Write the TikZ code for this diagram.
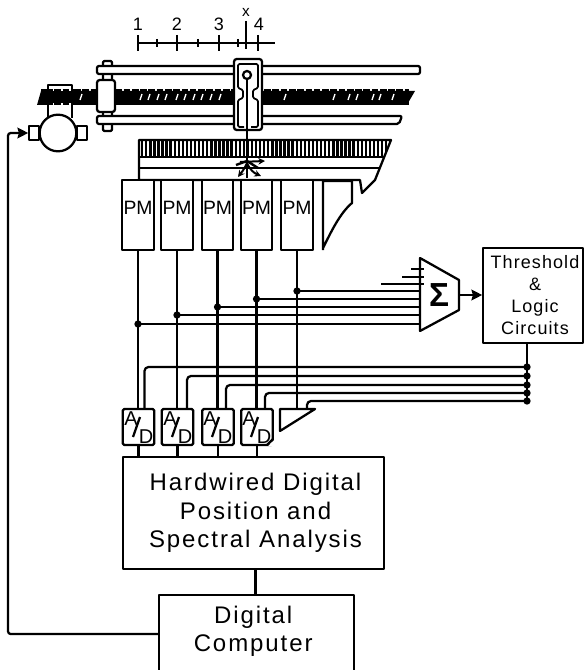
\documentclass[tikz,border=0pt]{standalone}
\usepackage{fontspec}
\usepackage{tikz}
\usetikzlibrary{arrows.meta}
\setmainfont{Liberation Sans}
\newfontfamily\widefont[LetterSpace=8]{Liberation Sans}
\newfontfamily\smallfont[LetterSpace=6]{Liberation Sans}
\tikzset{
  pmbox/.style={draw,fill=white,inner sep=0pt,minimum width=23.5pt,minimum height=52.5pt,text depth=10pt,font=\fontsize{14.5}{16}\selectfont},
  adbox/.style={draw,fill=white,inner sep=0pt,minimum width=23.5pt,minimum height=27pt,rounded corners=1pt},
  adglyph/.style={inner sep=0pt,font=\fontsize{15}{15}\selectfont},
  blockbig/.style={draw,fill=white,inner sep=0pt,align=center,font=\widefont\fontsize{18}{21.5}\selectfont},
  blocksmall/.style={draw,fill=white,inner sep=0pt,align=center,font=\smallfont\fontsize{13.5}{16.5}\selectfont},
  jdot/.style={circle,fill=black,inner sep=0pt,minimum size=5.5pt},
  ticklabel/.style={inner sep=0pt,font=\fontsize{13.5}{14}\selectfont},
  partbox/.style={draw,fill=white,inner sep=0pt}
}
\begin{document}
\begin{tikzpicture}[x=0.75pt,y=-0.75pt,line width=1.7pt,>={Stealth[length=8pt,width=8pt,inset=1pt]},line join=round]
\useasboundingbox (0,0) rectangle (584,670);
\node[ticklabel] (lab1) at (138,24) {1};
\node[ticklabel] (lab2) at (177,24) {2};
\node[ticklabel] (lab3) at (219,24) {3};
\node[ticklabel] (lab4) at (259,24) {4};
\node[ticklabel,font=\fontsize{11.5}{12}\selectfont] (labx) at (246,12) {x};
\draw[line width=1.4pt] (138,43) -- (275,43);
\draw[line width=1.4pt] (138,35) -- (138,51);
\draw[line width=1.4pt] (157,39) -- (157,47);
\draw[line width=1.4pt] (177,35) -- (177,51);
\draw[line width=1.4pt] (198,39) -- (198,47);
\draw[line width=1.4pt] (219,35) -- (219,51);
\draw[line width=1.4pt] (238,39) -- (238,47);
\draw[line width=1.4pt] (246,21) -- (246,49);
\draw[line width=1.4pt] (258,35) -- (258,51);
% guide rails and lead screw
\draw[fill=white,rounded corners=1pt] (103,61) rectangle (112,131);
\draw[fill=white,rounded corners=1.5pt] (97,66) -- (420,66) -- (420,74) -- (97,74) -- cycle;
\draw[fill=white,rounded corners=1.5pt] (97,116) -- (402,116) -- (399,124) -- (97,124) -- cycle;
\fill[black] (37,105) -- (41,91) -- (415,91) -- (408,103) -- (405,105) -- cycle;
\draw[line width=12pt,dash pattern=on 5pt off 1.2pt] (41,97) -- (409,97);
\draw[white,line width=1pt] (80,100) -- (82,94) (140,100) -- (142,94) (148,100) -- (150,94) (157,100) -- (159,94) (165,100) -- (167,94)
  (176,100) -- (178,94) (184,100) -- (186,94) (193,100) -- (195,94) (201,100) -- (203,94) (210,100) -- (212,94) (219,100) -- (221,94)
  (284,100) -- (286,94) (333,100) -- (335,94) (348,100) -- (350,94) (356,100) -- (358,94) (372,100) -- (374,94) (379,100) -- (381,94) (392,100) -- (394,94);
\node[partbox,rounded corners=2pt,minimum width=13.5pt,minimum height=24pt] (clamp) at (106,96) {};
% motor
\draw[fill=white] (48,118) -- (48,85) -- (72,85) -- (72,118);
\fill[black] (46,91) rectangle (74,103);
\draw[line width=12pt,dash pattern=on 5pt off 1.2pt] (46,97) -- (74,97);
\fill[white] (49,86.5) rectangle (71,88.5);
\fill[white] (49,105.5) rectangle (71,116);
\node[partbox,minimum width=7pt,minimum height=10pt] (termleft) at (34,133) {};
\node[partbox,minimum width=7.5pt,minimum height=10pt] (termright) at (82,133) {};
\node[partbox,circle,minimum size=27.5pt] (motor) at (58,133) {};
% carriage
\draw[fill=white,rounded corners=2pt] (234,59) rectangle (262,130);
\draw[rounded corners=1pt,line width=1.3pt] (244,127) -- (238,127) -- (238,100) -- (243,98) -- (243,90) -- (238,88) -- (238,64) -- (258,64) -- (258,88) -- (253,90) -- (253,98) -- (258,100) -- (258,127) -- (251,127);
\node[partbox,circle,minimum size=6pt] (pivot) at (247,75) {};
% crystal and collimator
\draw[fill=white] (139,180) -- (139,140) -- (391,140) -- (375,180) -- (362,193) -- (360,180) -- cycle;
\begin{scope}
\clip (139,140) -- (391,140) -- (384,157) -- (139,157) -- cycle;
\draw[line width=12pt,dash pattern=on 1.8pt off 1.25pt] (141,148) -- (392,148);
\end{scope}
\draw (139,157) -- (384,157);
\draw (139,168) -- (380,168);
\draw[line width=1.8pt] (pivot) -- (247,178);
% light rays
\draw[->,line width=1.5pt,>={Stealth[length=5pt,width=5pt]}] (240,162) -- (265,161);
\draw[->,line width=1.5pt,>={Stealth[length=5pt,width=5pt]}] (247,163) .. controls (244,170) and (241,173) .. (238,177);
\draw[->,line width=1.5pt,>={Stealth[length=5pt,width=5pt]}] (247,163) .. controls (250,170) and (254,173) .. (261,176);
\draw[line width=1.8pt] (236,165) -- (247,161) -- (258,168);
% photomultipliers
\node[pmbox] (pm1) at (138,215) {PM};
\node[pmbox] (pm2) at (177,215) {PM};
\node[pmbox] (pm3) at (217.5,215) {PM};
\node[pmbox] (pm4) at (256.5,215) {PM};
\node[pmbox] (pm5) at (297,215) {PM};
\draw[fill=white] (323,250) -- (323,181) -- (352,181) -- (352,203) .. controls (340,213) and (331,232) .. (323,248);
% converters
\node[adbox] (ad1) at (138.5,427) {};
\node[adglyph] (ad1a) at (131,419) {A};
\node[adglyph] (ad1d) at (146,437) {D};
\draw (133,437) -- (140,417);
\node[adbox] (ad2) at (177.5,427) {};
\node[adglyph] (ad2a) at (170,419) {A};
\node[adglyph] (ad2d) at (185,437) {D};
\draw (172,437) -- (179,417);
\node[adbox] (ad3) at (218,427) {};
\node[adglyph] (ad3a) at (210,419) {A};
\node[adglyph] (ad3d) at (225,437) {D};
\draw (212,437) -- (219,417);
\node[adbox] (ad4) at (257,427) {};
\node[adglyph] (ad4a) at (249,419) {A};
\node[adglyph] (ad4d) at (264,437) {D};
\draw (251,437) -- (258,417);
\fill[white] (268,446) -- (274,446) -- (274,440) -- cycle;
\draw (267,445) -- (273,439);
\draw[fill=white] (280,409) -- (315,409) -- (280,431) -- cycle;
% blocks
\node[blockbig,minimum width=195.5pt,minimum height=84pt] (hard) at (253.5,513) {\hspace*{3pt}Hardwired Digital\\\hspace*{3pt}Position and\\\hspace*{3pt}Spectral Analysis};
\node[blockbig,minimum width=146pt,minimum height=58pt,text depth=8pt] (comp) at (256.5,634) {Digital\hspace*{5pt}\\Computer\hspace*{5pt}};
\node[blocksmall,minimum width=74.5pt,minimum height=71pt] (thresh) at (533,295.5) {\hspace*{3pt}Threshold\\\hspace*{3pt}\&\\\hspace*{3pt}Logic\\\hspace*{3pt}Circuits};
% summing amplifier
\draw[fill=white] (420,258) -- (459,280) -- (459,310) -- (420,331) -- cycle;
\node[inner sep=0pt,font=\bfseries\fontsize{25}{28}\selectfont] (sum) at (439,295) {Σ};
\coordinate (sumin) at (420,295);
\coordinate (sumout) at (459,295);
\draw (411,269) -- (424,269);
\draw (402,277) -- (424,277);
\draw[line width=1.2pt] (381,284) -- (424,284);
\draw[->] (sumout) -- (thresh.west |- sumout);
% signal wires
\draw (pm1.south) -- (pm1.south |- ad1.north);
\draw (pm2.south) -- (pm2.south |- ad2.north);
\draw (pm3.south) -- (pm3.south |- ad3.north);
\draw (pm4.south) -- (pm4.south |- ad4.north);
\draw (pm5.south) -- (297,409);
\node[jdot] (sj5) at (297,291) {};
\node[jdot] (sj4) at (256.5,299) {};
\node[jdot] (sj3) at (217.5,307) {};
\node[jdot] (sj2) at (177,315) {};
\node[jdot] (sj1) at (138,324) {};
\draw (sj5.center) -- (sj5 -| sumin);
\draw (sj4.center) -- (sj4 -| sumin);
\draw (sj3.center) -- (sj3 -| sumin);
\draw (sj2.center) -- (sj2 -| sumin);
\draw (sj1.center) -- (sj1 -| sumin);
% strobe wires
\draw (thresh.south -| 527,0) -- (527,401);
\node[jdot] (tj1) at (527,367) {};
\node[jdot] (tj2) at (527,376) {};
\node[jdot] (tj3) at (527,385) {};
\node[jdot] (tj4) at (527,393) {};
\node[jdot] (tj5) at (527,401) {};
\draw[rounded corners=3pt] (tj1.center) -- (144.5,367) -- (144.5,409);
\draw[rounded corners=3pt] (tj2.center) -- (187,376) -- (187,409);
\draw[rounded corners=3pt] (tj3.center) -- (226,385) -- (226,409);
\draw[rounded corners=3pt] (tj4.center) -- (265,393) -- (265,409);
\draw[rounded corners=3pt] (tj5.center) -- (307,401) -- (307,409);
% outputs
\draw (ad1.south) -- (ad1.south |- hard.north);
\draw (ad2.south) -- (ad2.south |- hard.north);
\draw (ad3.south) -- (ad3.south |- hard.north);
\draw (ad4.south) -- (ad4.south |- hard.north);
\draw (hard.south -| 255.5,0) -- (comp.north -| 255.5,0);
\coordinate (fbcorner) at (8,133);
\draw[->,rounded corners=2pt] (comp.west) -| (fbcorner) -- (termleft.west);
\end{tikzpicture}
\end{document}
